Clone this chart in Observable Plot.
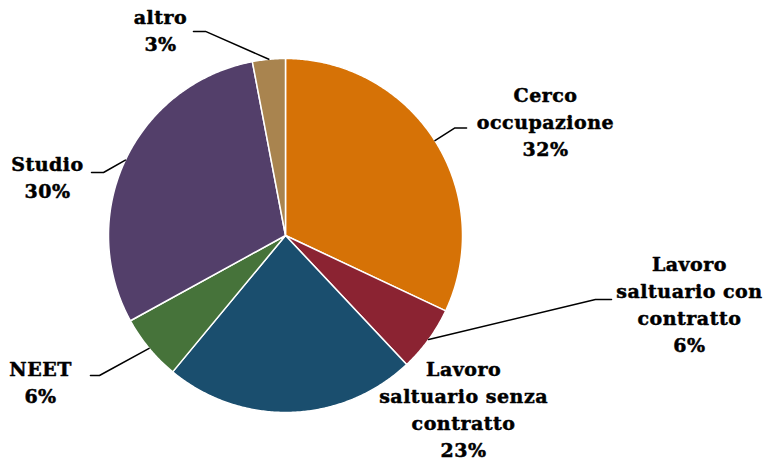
<!DOCTYPE html>
<html>
<head>
<meta charset="utf-8">
<script src="https://cdn.jsdelivr.net/npm/d3@7"></script>
<script src="https://cdn.jsdelivr.net/npm/@observablehq/plot@0.6"></script>
<style>
  html, body { margin: 0; padding: 0; background: #ffffff; }
  #chart svg text { letter-spacing: 0.5px; }
</style>
</head>
<body>
<div id="chart"></div>
<script>
// ---- data ----
const categories = ["Cerco occupazione", "Lavoro saltuario con contratto", "Lavoro saltuario senza contratto", "NEET", "Studio", "altro"];
const values = [32, 6, 23, 6, 30, 3];
const labels = ["Cerco\noccupazione\n32%", "Lavoro\nsaltuario con\ncontratto\n6%", "Lavoro\nsaltuario senza\ncontratto\n23%", "NEET\n6%", "Studio\n30%", "altro\n3%"];
const colors = ["#D67206", "#8B2332", "#1A4E6E", "#46733A", "#533F6A", "#A9844F"];

// ---- layout (in units of pie radius, centre = 0,0) ----
const labelX = [1.469, 2.282, 1.006, -1.384, -1.345, -0.706];
const labelY = [0.653, -0.382, -0.975, -0.824, 0.338, 1.168];
// leader lines: [elbowX, elbowY, endX] (null = no leader)
const leaders = [[0.955, 0.607, 1.023], [1.751, -0.362, 1.842], null, [-1.051, -0.791, -1.102], [-1.028, 0.356, -1.096], [-0.452, 1.153, -0.520]];

// ---- geometry from values ----
const total = d3.sum(values);
let acc = 0;
const slices = values.map((v, i) => {
  const a0 = acc / total * 2 * Math.PI;
  acc += v;
  const a1 = acc / total * 2 * Math.PI;
  return {cat: categories[i], a0, a1, mid: (a0 + a1) / 2};
});
const wedgePts = [];
for (const s of slices) {
  wedgePts.push({cat: s.cat, x: 0, y: 0});
  const n = Math.max(2, Math.ceil((s.a1 - s.a0) / (Math.PI / 360)));
  for (let k = 0; k <= n; k++) {
    const a = s.a0 + (s.a1 - s.a0) * k / n;
    wedgePts.push({cat: s.cat, x: Math.sin(a), y: Math.cos(a)});
  }
}
const leaderPts = [];
slices.forEach((s, i) => {
  const L = leaders[i];
  if (!L) return;
  leaderPts.push({cat: s.cat, x: Math.sin(s.mid), y: Math.cos(s.mid)});
  leaderPts.push({cat: s.cat, x: L[0], y: L[1]});
  leaderPts.push({cat: s.cat, x: L[2], y: L[1]});
});
const labelData = categories.map((c, i) => ({cat: c, text: labels[i], x: labelX[i], y: labelY[i]}));

const chart = Plot.plot({
  width: 770,
  height: 463,
  marginLeft: 108,
  marginRight: 308,
  marginTop: 58,
  marginBottom: 51,
  x: {domain: [-1, 1], axis: null},
  y: {domain: [-1, 1], axis: null},
  color: {domain: categories, range: colors},
  style: {background: "#ffffff", overflow: "visible"},
  marks: [
    Plot.line(wedgePts, {x: "x", y: "y", z: "cat", fill: "cat", stroke: "#ffffff", strokeWidth: 1.5, curve: "linear-closed", strokeLinejoin: "round"}),
    Plot.line(leaderPts, {x: "x", y: "y", z: "cat", stroke: "#000000", strokeWidth: 1.5, curve: "linear"}),
    Plot.text(labelData, {x: "x", y: "y", text: "text", fontFamily: "DejaVu Serif", fontWeight: "bold", fontSize: 19, lineHeight: 27 / 19, fill: "#000000", stroke: "#000000", strokeWidth: 0.5, textAnchor: "middle"})
  ]
});
document.getElementById("chart").appendChild(chart);
</script>
</body>
</html>
